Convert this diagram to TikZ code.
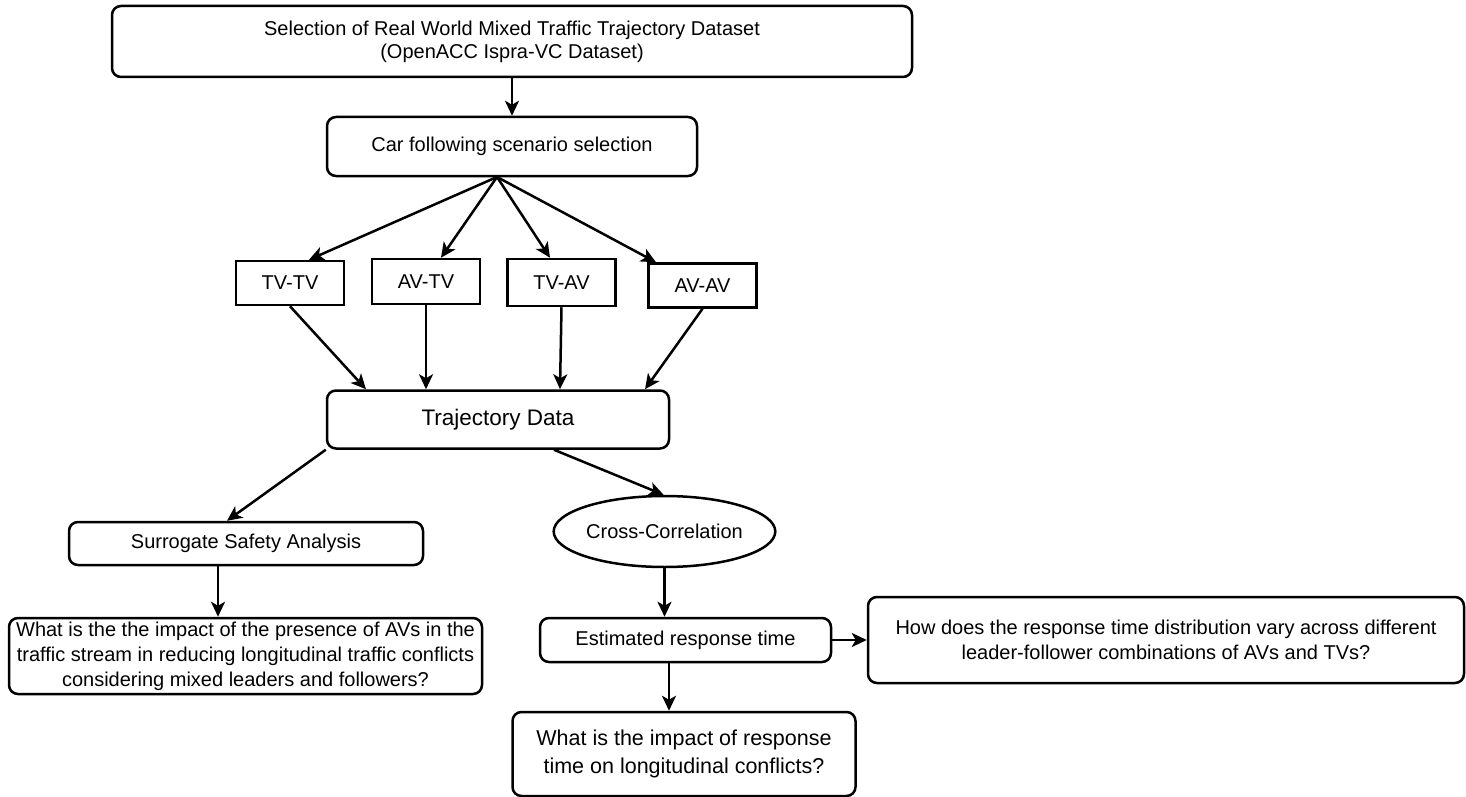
\documentclass[tikz,border=0pt]{standalone}
\usepackage{fontspec}
\setmainfont{Liberation Sans}
\usetikzlibrary{arrows.meta,shapes.geometric}
\begin{document}
\begin{tikzpicture}[x=1pt,y=-1pt,line width=2.5pt,
	box/.style={draw,rounded corners=9pt,inner sep=0pt,align=center,font=\fontsize{20}{25}\selectfont},
	pair/.style={draw,inner sep=0pt,minimum width=108pt,font=\fontsize{20}{24}\selectfont},
	flow/.style={-{Stealth[length=15pt,width=14pt,inset=4pt]}}]
	\useasboundingbox (0,0) rectangle (1466,797);
	\node (sel)  at (512, 41.5)	[box, minimum width=800pt, minimum height=71pt]	{Selection of Real World Mixed Traffic Trajectory Dataset\\[-2pt](OpenACC Ispra-VC Dataset)};
	\node (car)  at (512,146.5)	[box, minimum width=370pt, minimum height=59pt]	{Car following scenario selection};
	\coordinate (fan) at (497,177);
	\node (tvtv) at (290,283)	[pair, minimum height=44pt]	{TV-TV};
	\node (avtv) at (426,281.5)	[pair, minimum height=45pt]	{AV-TV};
	\node (tvav) at (561.5,282.5)	[pair, minimum height=47pt]	{TV-AV};
	\node (avav) at (702.5,285.5)	[pair, minimum height=44pt]	{AV-AV};
	\node (traj) at (498,419.5)	[box, minimum width=342pt, minimum height=58pt, font=\fontsize{22.5}{27}\selectfont]	{Trajectory Data};
	\node (ssa)  at (246,543.5)	[box, minimum width=354pt, minimum height=43pt]	{Surrogate Safety Analysis};
	\node (cc)   at (664.5,531.5)	[ellipse, draw, inner sep=0pt, minimum width=171pt, minimum height=71pt, font=\fontsize{20}{24}\selectfont]	{Cross-Correlation};
	\node (q1)   at (245.5,656)	[box, minimum width=473pt, minimum height=76pt]	{What is the the impact of the presence of AVs in the\\traffic stream in reducing longitudinal traffic conflicts\\considering mixed leaders and followers?};
	\node (ert)  at (685.5,640)	[box, minimum width=291pt, minimum height=44pt]	{Estimated response time};
	\node (q2)   at (1166,640)	[box, minimum width=596pt, minimum height=86pt]	{How does the response time distribution vary across different\\leader-follower combinations of AVs and TVs?};
	\node (q3)   at (684,754)	[box, minimum width=343pt, minimum height=84pt, font=\fontsize{21.5}{28}\selectfont]	{What is the impact of response\\time on longitudinal conflicts?};
	\draw[flow] (sel) -- (car);
	\draw[flow] (fan) -- ([xshift=19pt]tvtv.north);
	\draw[flow] (fan) -- ([xshift=15pt]avtv.north);
	\draw[flow] (fan) -- ([xshift=-11.5pt]tvav.north);
	\draw[flow] (fan) -- ([xshift=-46.5pt]avav.north);
	\draw[flow] (tvtv.south) -- ([xshift=-132pt]traj.north);
	\draw[flow] (avtv.south) -- ([xshift=-72pt]traj.north);
	\draw[flow] (tvav.south) -- ([xshift=62pt]traj.north);
	\draw[flow] (avav.south) -- ([xshift=147pt]traj.north);
	\draw[flow] (traj.south west) -- ([xshift=-19pt]ssa.north);
	\draw[flow] ([xshift=56pt]traj.south) -- ([xshift=-1pt]cc.north);
	\draw[flow] ([xshift=-28pt]ssa.south) -- ([xshift=-28pt]ssa.south |- q1.north);
	\draw[flow] (cc.south) -- (cc.south |- ert.north);
	\draw[flow] (ert.east) -- (q2.west);
	\draw[flow] ([xshift=-16.5pt]ert.south) -- ([xshift=-16.5pt]ert.south |- q3.north);
\end{tikzpicture}
\end{document}
